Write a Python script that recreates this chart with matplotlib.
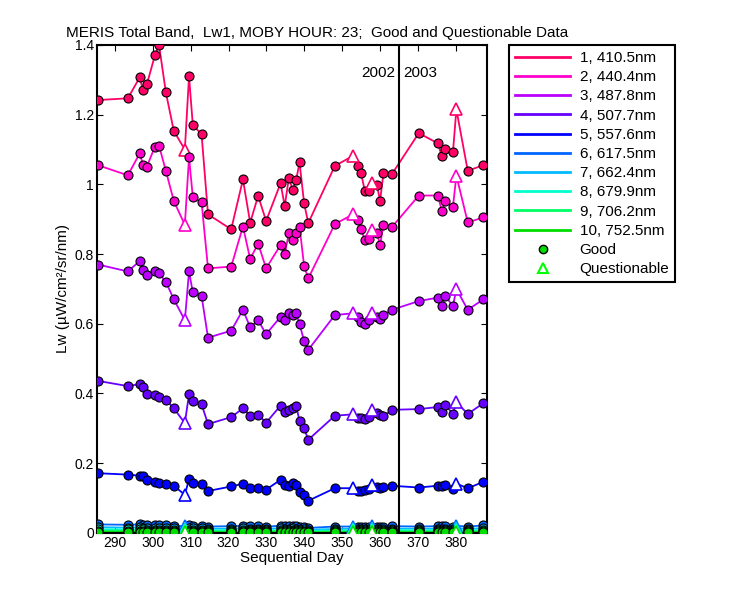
import matplotlib
matplotlib.use("Agg")
import matplotlib.pyplot as plt
from matplotlib.lines import Line2D

plt.rcParams["font.family"] = "Liberation Sans"

days = [285.6, 293.5, 296.6, 297.5, 298.5, 300.6, 301.7, 303.5, 305.6, 308.5,
        309.6, 310.6, 312.9, 314.6, 320.7, 323.8, 325.7, 327.8, 329.9, 333.7,
        334.8, 335.9, 336.9, 337.8, 338.7, 339.9, 341.0, 348.0, 352.8, 354.1,
        354.9, 355.9, 356.9, 357.8, 359.1, 359.9, 360.8, 363.0, 370.1, 375.1,
        376.2, 377.1, 379.1, 380.0, 383.0, 387.1]
questionable = [9, 28, 33, 43]

b1 = [1.242, 1.247, 1.307, 1.27, 1.287, 1.37, 1.40, 1.264, 1.153, 1.10,
      1.31, 1.17, 1.144, 0.914, 0.871, 1.014, 0.890, 0.967, 0.895, 1.003,
      0.938, 1.019, 0.984, 1.012, 1.063, 0.946, 0.889, 1.053, 1.082, 1.053,
      1.032, 0.981, 0.981, 1.003, 0.998, 0.952, 1.032, 1.029, 1.147, 1.118,
      1.08, 1.101, 1.092, 1.215, 1.039, 1.055]
b2 = [1.055, 1.026, 1.089, 1.056, 1.051, 1.108, 1.111, 1.039, 0.952, 0.884,
      1.078, 0.963, 0.949, 0.759, 0.764, 0.879, 0.786, 0.830, 0.759, 0.826,
      0.800, 0.860, 0.839, 0.860, 0.879, 0.766, 0.730, 0.886, 0.914, 0.898,
      0.871, 0.840, 0.843, 0.869, 0.860, 0.826, 0.884, 0.877, 0.968, 0.968,
      0.924, 0.951, 0.936, 1.025, 0.891, 0.905]
b3 = [0.77, 0.75, 0.78, 0.755, 0.74, 0.75, 0.745, 0.72, 0.67, 0.61,
      0.75, 0.69, 0.68, 0.56, 0.58, 0.64, 0.59, 0.61, 0.57, 0.62,
      0.61, 0.63, 0.625, 0.63, 0.60, 0.55, 0.525, 0.625, 0.63, 0.62,
      0.605, 0.60, 0.61, 0.63, 0.62, 0.615, 0.625, 0.64, 0.665, 0.675,
      0.65, 0.68, 0.65, 0.70, 0.64, 0.67]
b4 = [0.436, 0.421, 0.427, 0.418, 0.399, 0.396, 0.389, 0.382, 0.357, 0.315,
      0.398, 0.378, 0.369, 0.312, 0.332, 0.357, 0.336, 0.339, 0.316, 0.365,
      0.346, 0.353, 0.357, 0.365, 0.321, 0.300, 0.267, 0.336, 0.340, 0.329,
      0.329, 0.327, 0.332, 0.353, 0.343, 0.339, 0.334, 0.353, 0.355, 0.361,
      0.346, 0.367, 0.341, 0.375, 0.341, 0.372]
b5 = [0.171, 0.167, 0.164, 0.163, 0.152, 0.146, 0.143, 0.141, 0.135, 0.109,
      0.154, 0.144, 0.141, 0.120, 0.133, 0.141, 0.129, 0.130, 0.124, 0.152,
      0.138, 0.135, 0.143, 0.138, 0.118, 0.109, 0.092, 0.128, 0.128, 0.121,
      0.120, 0.123, 0.125, 0.138, 0.131, 0.128, 0.131, 0.135, 0.130, 0.135,
      0.133, 0.137, 0.125, 0.141, 0.128, 0.146]
b6 = [0.024, 0.023, 0.024, 0.023, 0.022, 0.022, 0.021, 0.021, 0.020, 0.019,
      0.021, 0.020, 0.020, 0.018, 0.019, 0.020, 0.019, 0.019, 0.018, 0.020,
      0.019, 0.019, 0.020, 0.019, 0.017, 0.016, 0.014, 0.018, 0.018, 0.017,
      0.017, 0.017, 0.018, 0.019, 0.018, 0.018, 0.018, 0.019, 0.018, 0.019,
      0.019, 0.019, 0.018, 0.020, 0.018, 0.021]
b7 = [0.016, 0.015, 0.016, 0.015, 0.015, 0.014, 0.014, 0.014, 0.013, 0.012,
      0.014, 0.013, 0.013, 0.012, 0.012, 0.013, 0.012, 0.012, 0.012, 0.013,
      0.012, 0.012, 0.013, 0.012, 0.011, 0.010, 0.009, 0.011, 0.012, 0.011,
      0.011, 0.011, 0.011, 0.012, 0.012, 0.011, 0.012, 0.012, 0.012, 0.012,
      0.012, 0.012, 0.011, 0.013, 0.012, 0.013]
b8 = [0.010, 0.010, 0.010, 0.010, 0.009, 0.009, 0.009, 0.009, 0.008, 0.008,
      0.009, 0.008, 0.008, 0.007, 0.008, 0.008, 0.008, 0.008, 0.007, 0.008,
      0.008, 0.008, 0.008, 0.008, 0.007, 0.006, 0.006, 0.007, 0.007, 0.007,
      0.007, 0.007, 0.007, 0.008, 0.007, 0.007, 0.007, 0.008, 0.007, 0.008,
      0.008, 0.008, 0.007, 0.008, 0.007, 0.008]
b9 = [0.006, 0.006, 0.006, 0.006, 0.005, 0.005, 0.005, 0.005, 0.005, 0.004,
      0.005, 0.005, 0.005, 0.004, 0.004, 0.005, 0.004, 0.004, 0.004, 0.005,
      0.004, 0.004, 0.005, 0.004, 0.004, 0.003, 0.003, 0.004, 0.004, 0.004,
      0.004, 0.004, 0.004, 0.004, 0.004, 0.004, 0.004, 0.004, 0.004, 0.004,
      0.004, 0.004, 0.004, 0.005, 0.004, 0.005]
b10 = [0.003, 0.003, 0.003, 0.003, 0.003, 0.003, 0.002, 0.002, 0.002, 0.002,
       0.002, 0.002, 0.002, 0.002, 0.002, 0.002, 0.002, 0.002, 0.002, 0.002,
       0.002, 0.002, 0.002, 0.002, 0.002, 0.001, 0.001, 0.002, 0.002, 0.002,
       0.002, 0.002, 0.002, 0.002, 0.002, 0.002, 0.002, 0.002, 0.002, 0.002,
       0.002, 0.002, 0.002, 0.002, 0.002, 0.002]
series = [b1, b2, b3, b4, b5, b6, b7, b8, b9, b10]
labels = ["1, 410.5nm", "2, 440.4nm", "3, 487.8nm", "4, 507.7nm", "5, 557.6nm",
          "6, 617.5nm", "7, 662.4nm", "8, 679.9nm", "9, 706.2nm", "10, 752.5nm"]
colors = ["#ff0066", "#ff00cc", "#bb00ff", "#6600ff", "#0000ff",
          "#0066ff", "#00bbff", "#00ffcc", "#00ff66", "#00dd00"]
yticks = [0, 0.2, 0.4, 0.6, 0.8, 1.0, 1.2, 1.4]
yticklabels = ["0", "0.2", "0.4", "0.6", "0.8", "1", "1.2", "1.4"]
xticks = [290, 300, 310, 320, 330, 340, 350, 360, 370, 380]

fig = plt.figure(figsize=(7.5, 6), dpi=100)
ax = fig.add_axes([0.129, 0.112, 0.52, 0.813])

good = [i for i in range(len(days)) if i not in questionable]
for vals, c in zip(series, colors):
    ax.plot(days, vals, color=c, lw=1.3, zorder=2)
    ax.plot([days[i] for i in good], [vals[i] for i in good], "o", ms=6.5,
            mfc=c, mec="black", mew=0.8, ls="none", zorder=3)
    ax.plot([days[i] for i in questionable], [vals[i] for i in questionable], "^",
            ms=8, mfc="white", mec=c, mew=1.2, ls="none", zorder=3)

ax.axvline(365, color="black", lw=1.5)
ax.text(364, 1.32, "2002", ha="right", va="center", fontsize=11)
ax.text(366, 1.32, "2003", ha="left", va="center", fontsize=11)

ax.set_xlim(285.3, 388)
ax.set_ylim(0, 1.4)
ax.set_xticks(xticks)
ax.set_yticks(yticks)
ax.set_yticklabels(yticklabels)
ax.tick_params(direction="in", top=True, right=True, labelsize=10, length=4, pad=2)
for s in ax.spines.values():
    s.set_linewidth(1.5)
ax.set_xlabel("Sequential Day", fontsize=11, labelpad=1)
ax.set_ylabel("Lw (µW/cm²/sr/nm)", fontsize=11, labelpad=3)
ax.set_title("MERIS Total Band,  Lw1, MOBY HOUR: 23;  Good and Questionable Data",
             fontsize=11, loc="left", x=-0.08, pad=6)

handles = [Line2D([], [], color=c, lw=2) for c in colors]
handles.append(Line2D([], [], marker="o", color="#00dd00", mec="black", ls="none", ms=6))
handles.append(Line2D([], [], marker="^", mfc="white", mec="#00ff00", mew=1.5, ls="none", ms=7))
leg = fig.legend(handles, labels + ["Good", "Questionable"], loc="upper left",
                 bbox_to_anchor=(0.679, 0.925), fontsize=11, frameon=True,
                 fancybox=False, edgecolor="black", framealpha=1,
                 handlelength=3.6, handletextpad=0.6, labelspacing=0.34,
                 borderpad=0.4, borderaxespad=0)
leg.get_frame().set_linewidth(1.5)

fig.savefig("out.png", dpi=100)
